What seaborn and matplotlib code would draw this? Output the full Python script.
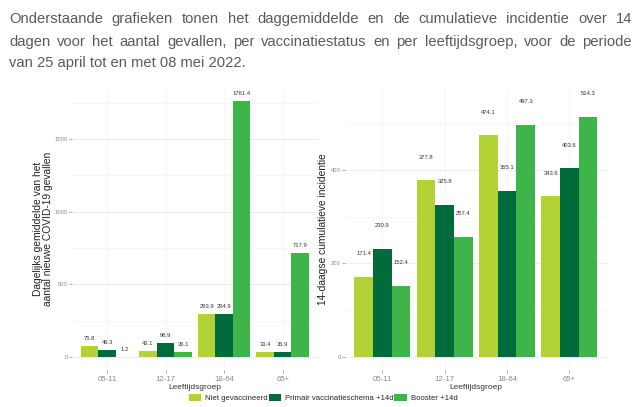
import numpy as np
import pandas as pd
import seaborn as sns
from matplotlib import pyplot as plt
from matplotlib.patches import Patch

groups   = ['05-11', '12-17', '18-64', '65+']
statuses = ['Niet gevaccineerd', 'Primair vaccinatieschema +14d', 'Booster +14d']
colors   = ['#b3d235', '#006b3a', '#3db54a']

# daggemiddelde (links)
daily_niet    = [75.8, 43.1, 293.9, 33.4]
daily_primair = [46.3, 96.9, 294.9, 36.9]
daily_booster = [1.2, 36.1, 1761.4, 717.9]

# 14-daagse cumulatieve incidentie (rechts)
ci_niet    = [171.4, 377.8, 474.1, 343.6]
ci_primair = [230.9, 325.8, 355.1, 403.6]
ci_booster = [152.4, 257.4, 497.3, 514.3]

intro = ["Onderstaande grafieken tonen het daggemiddelde en de cumulatieve incidentie over 14",
         "dagen voor het aantal gevallen, per vaccinatiestatus en per leeftijdsgroep, voor de periode",
         "van 25 april tot en met 08 mei 2022."]

def to_frame(a, b, c):
    rows = []
    for vals, st in zip((a, b, c), statuses):
        for g, v in zip(groups, vals):
            rows.append({'Leeftijdsgroep': g, 'status': st, 'waarde': v})
    return pd.DataFrame(rows)

sns.set_theme(style='whitegrid')
plt.rcParams['font.family'] = ['Liberation Sans', 'DejaVu Sans']

fig = plt.figure(figsize=(6.4, 4.07), dpi=100)

def panel(ax, df, ylim, ticks, minor, ylabel, pad):
    sns.barplot(data=df, x='Leeftijdsgroep', y='waarde', hue='status',
                hue_order=statuses, palette=colors, width=0.9, gap=0,
                saturation=1, errorbar=None, ax=ax, legend=False,
                linewidth=0)
    for cont in ax.containers:
        for p in cont.patches:
            h = p.get_height()
            ax.text(p.get_x() + p.get_width() / 2, h + 50, f'{h:.1f}',
                    ha='center', va='center', fontsize=4.2, color='#333333')
    ax.set_xlim(-0.6, 3.6)
    ax.set_ylim(*ylim)
    ax.set_yticks(ticks)
    ax.set_yticks(minor, minor=True)
    ax.set_facecolor('white')
    for s in ax.spines.values():
        s.set_visible(False)
    ax.grid(True, which='major', axis='y', color='#ebebeb', linewidth=0.6)
    ax.grid(True, which='major', axis='x', color='#f3f3f3', linewidth=0.5)
    ax.grid(True, which='minor', axis='y', color='#f4f4f4', linewidth=0.5)
    ax.tick_params(axis='both', which='major', colors='#8a8a8a',
                   length=2, width=0.5, pad=1, left=True, bottom=True)
    ax.tick_params(axis='y', labelsize=4.2)
    ax.tick_params(axis='x', labelsize=5.6, pad=2)
    ax.tick_params(which='minor', length=0)
    ax.set_xlabel('Leeftijdsgroep', fontsize=6, labelpad=1, color='#333333')
    ax.set_ylabel(ylabel, fontsize=7.4, color='#222222', labelpad=pad, linespacing=1.0)

ax1 = fig.add_axes([0.1125, 0.091, 0.384, 0.693])
panel(ax1, to_frame(daily_niet, daily_primair, daily_booster),
      (-90, 1853), [0, 500, 1000, 1500], [250, 750, 1250, 1750],
      'Dagelijks gemiddelde van het\naantal nieuwe COVID-19 gevallen', 1.5)

ax2 = fig.add_axes([0.539, 0.091, 0.409, 0.693])
panel(ax2, to_frame(ci_niet, ci_primair, ci_booster),
      (-28, 576), [0, 200, 400], [100, 300, 500],
      '14-daagse cumulatieve incidentie', 2.5)

handles = [Patch(facecolor=c, edgecolor='none') for c in colors]
fig.legend(handles, statuses, loc='center', bbox_to_anchor=(0.505, 0.022), ncol=3,
           frameon=False, fontsize=5.6, handlelength=1.6, handleheight=0.9,
           handletextpad=0.5, columnspacing=0.1, borderaxespad=0)

# justified intro text
txt_color = '#5a5a5a'
fs = 10.6
left_px, right_px = 9, 632
baselines = [23.3, 45.8, 67]
fig.canvas.draw()
renderer = fig.canvas.get_renderer()
for i, (line, ypx) in enumerate(zip(intro, baselines)):
    y = 1 - ypx / 407
    words = line.split(' ')
    if i < 2:
        items = [fig.text(0, y, w, fontsize=fs, color=txt_color, va='baseline', ha='left')
                 for w in words]
        widths = [t.get_window_extent(renderer).width for t in items]
        gap = (right_px - left_px - sum(widths)) / (len(words) - 1)
        x = left_px
        for t, w in zip(items, widths):
            t.set_x(x / 640)
            x += w + gap
    else:
        fig.text(left_px / 640, y, line, fontsize=fs, color=txt_color, va='baseline', ha='left')

fig.savefig('out.png', dpi=100)
